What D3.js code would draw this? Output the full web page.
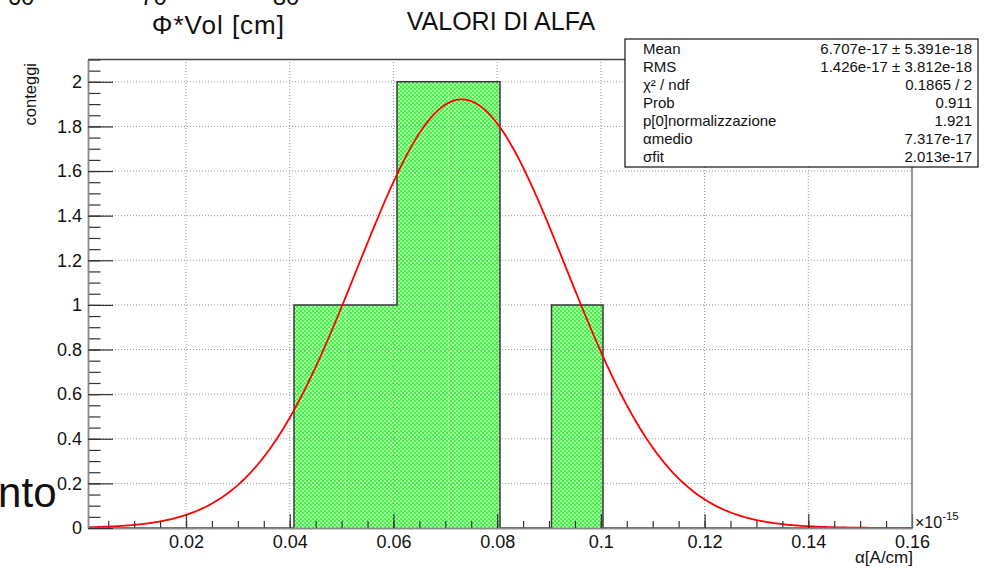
<!DOCTYPE html>
<html>
<head>
<meta charset="utf-8">
<script src="https://cdn.jsdelivr.net/npm/d3@7"></script>
<style>
  html, body { margin: 0; padding: 0; background: #fff; overflow: hidden; }
  svg { display: block; font-family: "Liberation Sans", Arial, Helvetica, sans-serif; }
</style>
</head>
<body>
<svg id="chart" width="997" height="581"></svg>
<script>
// ---------- data ----------
const histRange = [0.0011, 0.16];          // x axis range (×1e-15 A/cm)
const binCounts = [0, 0, 0, 0, 1, 1, 2, 2, 0, 1, 0, 0, 0, 0, 0, 0];
const xTickValues = [0.02, 0.04, 0.06, 0.08, 0.1, 0.12, 0.14, 0.16];
const xTickLabels = ["0.02", "0.04", "0.06", "0.08", "0.1", "0.12", "0.14", "0.16"];
const yTickValues = [0, 0.2, 0.4, 0.6, 0.8, 1, 1.2, 1.4, 1.6, 1.8, 2];
const yTickLabels = ["0", "0.2", "0.4", "0.6", "0.8", "1", "1.2", "1.4", "1.6", "1.8", "2"];
const yMax = 2.1;
// gaussian fit parameters (from stats box, in ×1e-15 units)
const fitNorm = 1.921;
const fitMean = 0.07317;
const fitSigma = 0.02013;
const statsLabels = ["Mean", "RMS", "χ² / ndf", "Prob", "p[0]normalizzazione", "αmedio", "σfit"];
const statsValues = ["6.707e-17 ± 5.391e-18", "1.426e-17 ± 3.812e-18", "0.1865 / 2", "0.911", "1.921", "7.317e-17", "2.013e-17"];
const leftoverTicks = ["60", "70", "80"];

// ---------- layout ----------
const L = 88, R = 912, T = 59.5, B = 528;
const svg = d3.select("#chart");

const x = d3.scaleLinear().domain(histRange).range([L, R]);
const y = d3.scaleLinear().domain([0, yMax]).range([B, T]);

// fill pattern (ROOT-like dithered green)
const defs = svg.append("defs");
const pat = defs.append("pattern").attr("id", "greenfill")
  .attr("patternUnits", "userSpaceOnUse").attr("width", 4).attr("height", 4);
pat.append("rect").attr("width", 4).attr("height", 4).attr("fill", "#45f245");
pat.append("rect").attr("x", 0).attr("y", 0).attr("width", 2).attr("height", 2).attr("fill", "#a2ffa2");
pat.append("rect").attr("x", 2).attr("y", 2).attr("width", 2).attr("height", 2).attr("fill", "#a2ffa2");

// leftover text from the pad above
svg.selectAll("text.left").data(leftoverTicks).enter().append("text")
  .attr("x", (d, i) => 21 + i * 132.5).attr("y", 5)
  .attr("text-anchor", "middle").attr("font-size", 24).attr("fill", "#111").text(d => d);
svg.append("text").attr("x", 285).attr("y", 33.5).attr("text-anchor", "end")
  .attr("font-size", 26).attr("letter-spacing", 1).attr("fill", "#111").text("Φ*Vol [cm]");
svg.append("text").attr("x", 56.5).attr("y", 507).attr("text-anchor", "end")
  .attr("font-size", 42).attr("fill", "#111").text("nto");

// title
svg.append("text").attr("x", 501).attr("y", 30).attr("text-anchor", "middle")
  .attr("font-size", 25).attr("fill", "#111").text("VALORI DI ALFA");

// histogram
const nBins = binCounts.length;
const bw = (histRange[1] - histRange[0]) / nBins;
const bins = binCounts.map((c, i) => ({ x0: histRange[0] + i * bw, x1: histRange[0] + (i + 1) * bw, c }));

svg.append("g").selectAll("rect").data(bins.filter(b => b.c > 0)).enter().append("rect")
  .attr("x", d => x(d.x0)).attr("width", d => x(d.x1) - x(d.x0))
  .attr("y", d => y(d.c)).attr("height", d => y(0) - y(d.c))
  .attr("fill", "url(#greenfill)");

// grid
const gridG = svg.append("g").attr("stroke", "#999").attr("stroke-width", 1).attr("stroke-dasharray", "1,2");
gridG.selectAll("line.gx").data(xTickValues.filter(v => v < histRange[1])).enter().append("line")
  .attr("x1", d => x(d)).attr("x2", d => x(d)).attr("y1", B).attr("y2", T);
gridG.selectAll("line.gy").data(yTickValues.filter(v => v > 0)).enter().append("line")
  .attr("x1", L).attr("x2", R).attr("y1", d => y(d)).attr("y2", d => y(d));

// histogram outline (step)
const stepPts = [[histRange[0], 0]];
bins.forEach(b => { stepPts.push([b.x0, b.c]); stepPts.push([b.x1, b.c]); });
stepPts.push([histRange[1], 0]);
svg.append("path").datum(stepPts)
  .attr("d", d3.line().x(d => x(d[0])).y(d => y(d[1])))
  .attr("fill", "none").attr("stroke", "#3a3a3a").attr("stroke-width", 1.5);

// fit curve
const fitPts = d3.range(0, 401).map(i => {
  const xv = histRange[0] + (histRange[1] - histRange[0]) * i / 400;
  return [xv, fitNorm * Math.exp(-0.5 * Math.pow((xv - fitMean) / fitSigma, 2))];
});
svg.append("path").datum(fitPts)
  .attr("d", d3.line().x(d => x(d[0])).y(d => y(d[1])).curve(d3.curveLinear))
  .attr("fill", "none").attr("stroke", "#ff0000").attr("stroke-width", 1.8);

// axes
const xMinor = d3.range(0.005, 0.16 + 1e-9, 0.005).filter(v => v > histRange[0]);
const yMinor = d3.range(0.05, yMax + 1e-9, 0.05);

const xAxisMinor = d3.axisBottom(x).tickValues(xMinor).tickSizeInner(-7).tickSizeOuter(0).tickFormat("");
const xAxis = d3.axisBottom(x).tickValues(xTickValues).tickSizeInner(-14).tickSizeOuter(0).tickPadding(7)
  .tickFormat((d, i) => xTickLabels[i]);
const yAxisMinor = d3.axisLeft(y).tickValues(yMinor).tickSizeInner(-12.5).tickSizeOuter(0).tickFormat("");
const yAxis = d3.axisLeft(y).tickValues(yTickValues).tickSizeInner(-25).tickSizeOuter(0).tickPadding(6)
  .tickFormat((d, i) => yTickLabels[i]);

function styleAxis(g) {
  g.select(".domain").attr("stroke", "#8a8a8a").attr("stroke-width", 1.5);
  g.selectAll(".tick line").attr("stroke", "#333").attr("stroke-width", 1.2);
  g.selectAll(".tick text").attr("fill", "#111").attr("font-size", 18)
    .attr("font-family", "'Liberation Sans', Arial, Helvetica, sans-serif");
}
svg.append("g").attr("transform", `translate(0,${B})`).call(xAxisMinor).call(styleAxis);
svg.append("g").attr("transform", `translate(0,${B})`).call(xAxis).call(styleAxis);
svg.append("g").attr("transform", `translate(${L},0)`).call(yAxisMinor).call(styleAxis);
svg.append("g").attr("transform", `translate(${L},0)`).call(yAxis).call(styleAxis);

// frame top and right
svg.append("line").attr("x1", L).attr("x2", R).attr("y1", T).attr("y2", T).attr("stroke", "#444").attr("stroke-width", 1.3);
svg.append("line").attr("x1", R).attr("x2", R).attr("y1", T).attr("y2", B).attr("stroke", "#777").attr("stroke-width", 1.5);

// axis titles
svg.append("text").attr("transform", "translate(36,63) rotate(-90)").attr("text-anchor", "end")
  .attr("font-size", 16.5).attr("fill", "#111").text("conteggi");
svg.append("text").attr("x", 913).attr("y", 562.5).attr("text-anchor", "end")
  .attr("font-size", 17).attr("fill", "#111").text("α[A/cm]");
const expT = svg.append("text").attr("x", 915).attr("y", 528).attr("font-size", 16).attr("fill", "#111");
expT.append("tspan").text("×10");
expT.append("tspan").attr("dy", -8).attr("font-size", 11.5).text("-15");

// stats box
const sb = { x: 625, y: 39, w: 353, h: 128 };
svg.append("rect").attr("x", sb.x).attr("y", sb.y).attr("width", sb.w).attr("height", sb.h)
  .attr("fill", "#fff").attr("stroke", "#111").attr("stroke-width", 1.2);
svg.selectAll("text.sl").data(statsLabels).enter().append("text")
  .attr("x", 643).attr("y", (d, i) => 54 + i * 18).attr("font-size", 15).attr("fill", "#111").text(d => d);
svg.selectAll("text.sv").data(statsValues).enter().append("text")
  .attr("x", 972).attr("y", (d, i) => 54 + i * 18).attr("text-anchor", "end").attr("font-size", 15).attr("fill", "#111").text(d => d);
</script>
</body>
</html>
